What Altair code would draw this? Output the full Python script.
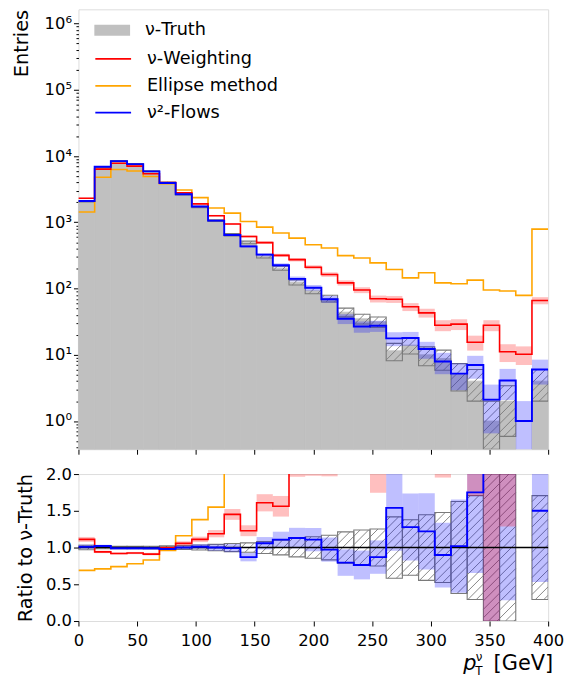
import math
import numpy as np
import pandas as pd
import altair as alt

# ---------------- values ----------------
N_BINS = 29
BIN_EDGES = [400.0 * k / N_BINS for k in range(N_BINS + 1)]

truth = [2080, 6750, 8460, 7630, 5930, 4000, 2650, 1710, 1060, 650,
         498, 307, 203, 124, 93, 71, 44, 35, 31.5, 11.5,
         14, 10, 8.8, 5.1, 4.0, 1.0, 2.0, 0, 4.0]
weighting = [2310, 6350, 7780, 7060, 5400, 3980, 2800, 1900, 1260, 943,
             612, 494, 317, 273, 210, 163, 122, 95, 70, 69,
             53, 43, 28, 29, 15.5, 28, 11.1, 10.2, 66]
ellipse = [1435, 4790, 6260, 5950, 4920, 3840, 3074, 2360, 1643, 1375,
           1028, 847, 689, 578, 459, 409, 314, 290, 244, 194,
           145, 173, 122, 118, 134, 95, 92, 79, 789]
flows = [2100, 6890, 8380, 7550, 5870, 3920, 2650, 1730, 1060, 645,
         433, 325, 225, 140, 103, 69, 35, 26.7, 27.4, 17.7,
         17.9, 12.2, 7.9, 5.2, 7.0, 2.1, 4.1, 1.0, 6.0]

SERIES = ["ν-Truth", "ν-Weighting", "Ellipse method", "ν²-Flows"]
X_TICKS = [0, 50, 100, 150, 200, 250, 300, 350, 400]
Y_TICKS_TOP = [1, 10, 100, 1000, 10000, 100000, 1000000]
Y_TICK_LABELS_TOP = ["10⁰", "10¹", "10²", "10³", "10⁴", "10⁵", "10⁶"]
Y_TICKS_BOT = [0.0, 0.5, 1.0, 1.5, 2.0]

# ---------------- styling / layout ----------------
FONT = "DejaVu Sans"
W = 473
H_TOP = 443
H_BOT = 148
LOG_MIN, LOG_MAX = -0.426, 6.216
Y_MIN, Y_MAX = 10 ** LOG_MIN, 10 ** LOG_MAX
R_MIN, R_MAX = 0.0, 2.0

GRAY_FILL = "#c0c0c0"
HATCH = "#7a7a7a"
RED = "#ff0000"
ORANGE = "#ffa500"
BLUE = "#0000ff"
HATCH_STEP = 8.5

# ---------------- helpers ----------------
def px_x(v):
    return v / 400.0 * W

def data_x(p):
    return p / W * 400.0

def px_top(v):
    return (LOG_MAX - math.log10(v)) / (LOG_MAX - LOG_MIN) * H_TOP

def data_top(p):
    return 10 ** (LOG_MAX - p / H_TOP * (LOG_MAX - LOG_MIN))

def px_bot(r):
    return (R_MAX - r) / (R_MAX - R_MIN) * H_BOT

def data_bot(p):
    return R_MAX - p / H_BOT * (R_MAX - R_MIN)


def hatch_rows(k, yt, yb, to_data):
    x0, x1 = px_x(BIN_EDGES[k]), px_x(BIN_EDGES[k + 1])
    rows = []
    n0 = math.ceil((x0 + yt) / HATCH_STEP)
    n1 = math.floor((x1 + yb) / HATCH_STEP)
    for n in range(n0, n1 + 1):
        c = n * HATCH_STEP
        xa = max(x0, c - yb)
        xb = min(x1, c - yt)
        if xb - xa > 0.3:
            rows.append(dict(x=data_x(xa), y=to_data(c - xa),
                             x2=data_x(xb), y2=to_data(c - xb)))
    return rows


def step_rows(values, name):
    rows, seg, order = [], 0, 0
    for k, v in enumerate(values):
        if v is None or not np.isfinite(v) or v <= 0:
            seg += 1
            continue
        for xe in (BIN_EDGES[k], BIN_EDGES[k + 1]):
            rows.append(dict(x=xe, y=v, series=name, seg=seg, order=order))
            order += 1
    return rows

# ---------------- top panel data ----------------
truth_fill = pd.DataFrame([dict(x=BIN_EDGES[k], x2=BIN_EDGES[k + 1], y=t, series=SERIES[0])
                           for k, t in enumerate(truth) if t > 0])

top_hatch_box, top_hatch_lines = [], []
for k, t in enumerate(truth):
    if t <= 0:
        continue
    lo = max(t - math.sqrt(t), Y_MIN)
    hi = min(t + math.sqrt(t), Y_MAX)
    top_hatch_box.append(dict(x=BIN_EDGES[k], x2=BIN_EDGES[k + 1], y=lo, y2=hi))
    top_hatch_lines += hatch_rows(k, px_top(hi), px_top(lo), data_top)
top_hatch_box = pd.DataFrame(top_hatch_box)
top_hatch_lines = pd.DataFrame(top_hatch_lines)


def top_band(values):
    rows = []
    for k, v in enumerate(values):
        rows.append(dict(x=BIN_EDGES[k], x2=BIN_EDGES[k + 1],
                         y=max(v - math.sqrt(v), Y_MIN), y2=v + math.sqrt(v)))
    return pd.DataFrame(rows)

# ---------------- ratio panel data ----------------
def ratio(values):
    return [v / t if t > 0 else None for v, t in zip(values, truth)]


def ratio_band(values):
    rows = []
    for k, (v, t) in enumerate(zip(values, truth)):
        if t <= 0:
            continue
        r = v / t
        e = r * math.sqrt(1.0 / v + 1.0 / t)
        lo, hi = max(r - e, R_MIN), min(r + e, R_MAX)
        if hi > lo:
            rows.append(dict(x=BIN_EDGES[k], x2=BIN_EDGES[k + 1], y=lo, y2=hi))
    return pd.DataFrame(rows)


bot_hatch_box, bot_hatch_lines = [], []
for k, t in enumerate(truth):
    if t <= 0:
        continue
    e = math.sqrt(2.0 / t)
    lo, hi = max(1 - e, R_MIN), min(1 + e, R_MAX)
    bot_hatch_box.append(dict(x=BIN_EDGES[k], x2=BIN_EDGES[k + 1], y=lo, y2=hi))
    bot_hatch_lines += hatch_rows(k, px_bot(hi), px_bot(lo), data_bot)
bot_hatch_box = pd.DataFrame(bot_hatch_box)
bot_hatch_lines = pd.DataFrame(bot_hatch_lines)

# ---------------- encodings ----------------
x_scale = alt.Scale(domain=[0, 400], nice=False, zero=False)
common_axis = dict(grid=False, domain=False, tickColor="black", tickWidth=1,
                   labelColor="black", labelFont=FONT, labelFontSize=16.5,
                   titleFont=FONT, titleColor="black", titleFontWeight="normal",
                   titleFontSize=19.5, labelFlush=False, labelOverlap=False)

x_top = alt.X("x:Q", scale=x_scale,
              axis=alt.Axis(values=X_TICKS, labels=False, title=None, tickSize=5,
                            **common_axis))
x_bot = alt.X("x:Q", scale=x_scale,
              axis=alt.Axis(values=X_TICKS, title=None, tickSize=5, labelPadding=7,
                            format="d", **common_axis))
x2 = alt.X2("x2:Q")

minor = [m * 10 ** d for d in range(-1, 7) for m in range(2, 10)
         if Y_MIN <= m * 10 ** d <= Y_MAX]
label_expr = "".join(f"datum.value == {v} ? '{s}' : "
                     for v, s in zip(Y_TICKS_TOP, Y_TICK_LABELS_TOP)) + "''"
major_test = "indexof([" + ",".join(str(v) for v in Y_TICKS_TOP) + "], datum.value) >= 0"

y_top = alt.Y("y:Q",
              scale=alt.Scale(type="log", domain=[Y_MIN, Y_MAX], nice=False),
              axis=alt.Axis(values=Y_TICKS_TOP + minor, labelExpr=label_expr,
                            tickSize={"condition": {"test": major_test, "value": 5},
                                      "value": 2.5},
                            labelPadding=2, title="Entries", titleAnchor="end",
                            titleAlign="right", titleX=-51, titleY=0,
                            titleBaseline="alphabetic", **common_axis))
y_bot = alt.Y("y:Q",
              scale=alt.Scale(domain=[R_MIN, R_MAX], nice=False, zero=False),
              axis=alt.Axis(values=Y_TICKS_BOT, format=".1f", tickSize=5,
                            labelPadding=2, title="Ratio to ν-Truth",
                            titleAlign="center", titleX=-47, titleY=H_BOT / 2,
                            titleBaseline="alphabetic", **common_axis))
y2 = alt.Y2("y2:Q")

legend_common = dict(title=None, orient="none", legendX=25,
                     symbolSize=324, labelFont=FONT, labelFontSize=17.8,
                     labelColor="black", labelOffset=24, rowPadding=8, padding=0)
fill_legend = alt.Legend(legendY=12, symbolType="M-2,-0.62H2V0.62H-2Z",
                         symbolStrokeWidth=0, **legend_common)
stroke_legend = alt.Legend(legendY=40, symbolType="M-2,0H2", symbolStrokeWidth=1.8,
                           symbolFillColor="transparent", **legend_common)
fill_enc = alt.Fill("series:N", scale=alt.Scale(domain=SERIES[:1], range=[GRAY_FILL]),
                    legend=fill_legend)
stroke_enc = alt.Stroke("series:N", scale=alt.Scale(domain=SERIES[1:],
                                                    range=[RED, ORANGE, BLUE]),
                        legend=stroke_legend)

# ---------------- top panel ----------------
t_fill = alt.Chart(truth_fill).mark_rect(stroke=GRAY_FILL, strokeWidth=0.8).encode(
    x=x_top, x2=x2, y=y_top, y2=alt.value(H_TOP), fill=fill_enc)
t_hlines = alt.Chart(top_hatch_lines).mark_rule(color=HATCH, strokeWidth=0.9, clip=True).encode(
    x=x_top, x2=x2, y=y_top, y2=y2)
t_hbox = alt.Chart(top_hatch_box).mark_rect(filled=False, stroke=HATCH, strokeWidth=1.1,
                                            clip=True).encode(x=x_top, x2=x2, y=y_top, y2=y2)
t_blue_band = alt.Chart(top_band(flows)).mark_rect(color=BLUE, opacity=0.25).encode(
    x=x_top, x2=x2, y=y_top, y2=y2)
t_red_band = alt.Chart(top_band(weighting)).mark_rect(color=RED, opacity=0.25).encode(
    x=x_top, x2=x2, y=y_top, y2=y2)


def top_line(values, name, width):
    return alt.Chart(pd.DataFrame(step_rows(values, name))).mark_line(
        strokeWidth=width, clip=True).encode(
        x=x_top, y=y_top, stroke=stroke_enc, detail="seg:N", order="order:Q")


top = alt.layer(
    t_fill, t_hlines, t_hbox, t_blue_band, t_red_band,
    top_line(ellipse, SERIES[2], 1.6),
    top_line(weighting, SERIES[1], 1.6),
    top_line(flows, SERIES[3], 1.9),
).properties(width=W, height=H_TOP)

# ---------------- ratio panel ----------------
b_hlines = alt.Chart(bot_hatch_lines).mark_rule(color=HATCH, strokeWidth=0.9, clip=True).encode(
    x=x_bot, x2=x2, y=y_bot, y2=y2)
b_hbox = alt.Chart(bot_hatch_box).mark_rect(filled=False, stroke=HATCH, strokeWidth=1.1,
                                            clip=True).encode(x=x_bot, x2=x2, y=y_bot, y2=y2)
b_blue_band = alt.Chart(ratio_band(flows)).mark_rect(color=BLUE, opacity=0.25).encode(
    x=x_bot, x2=x2, y=y_bot, y2=y2)
b_red_band = alt.Chart(ratio_band(weighting)).mark_rect(color=RED, opacity=0.25).encode(
    x=x_bot, x2=x2, y=y_bot, y2=y2)
unity = alt.Chart(pd.DataFrame({"y": [1.0]})).mark_rule(color="black", strokeWidth=1.6).encode(
    y=y_bot)


def bot_line(values, name, col, width):
    return alt.Chart(pd.DataFrame(step_rows(ratio(values), name))).mark_line(
        strokeWidth=width, clip=True, color=col).encode(
        x=x_bot, y=y_bot, detail="seg:N", order="order:Q")


def label(text, x, y, size, style="normal", align="left"):
    return alt.Chart(pd.DataFrame({"t": [text]})).mark_text(
        font=FONT, fontSize=size, fontStyle=style, align=align, baseline="alphabetic",
        color="black").encode(x=alt.value(x), y=alt.value(y), text="t:N")


bottom = alt.layer(
    b_hlines, b_hbox, b_blue_band, b_red_band, unity,
    bot_line(ellipse, SERIES[2], ORANGE, 1.6),
    bot_line(weighting, SERIES[1], RED, 1.6),
    bot_line(flows, SERIES[3], BLUE, 1.9),
    label("p", 387.5, 197, 21, "italic"),
    label("ν", 400, 188.5, 12),
    label("T", 399.5, 202.5, 12),
    label("[GeV]", 478, 197, 21, align="right"),
).properties(width=W, height=H_BOT)

chart = alt.vconcat(top, bottom, spacing=8).resolve_scale(
    x="independent", y="independent", fill="independent", stroke="independent"
).resolve_legend(fill="independent", stroke="independent").properties(
    padding={"left": 11, "top": 6, "right": 5, "bottom": 0}
).configure_view(stroke="black", strokeWidth=1.1).configure(background="white")

chart.save("out.html", embed_options={"renderer": "svg", "actions": False})
